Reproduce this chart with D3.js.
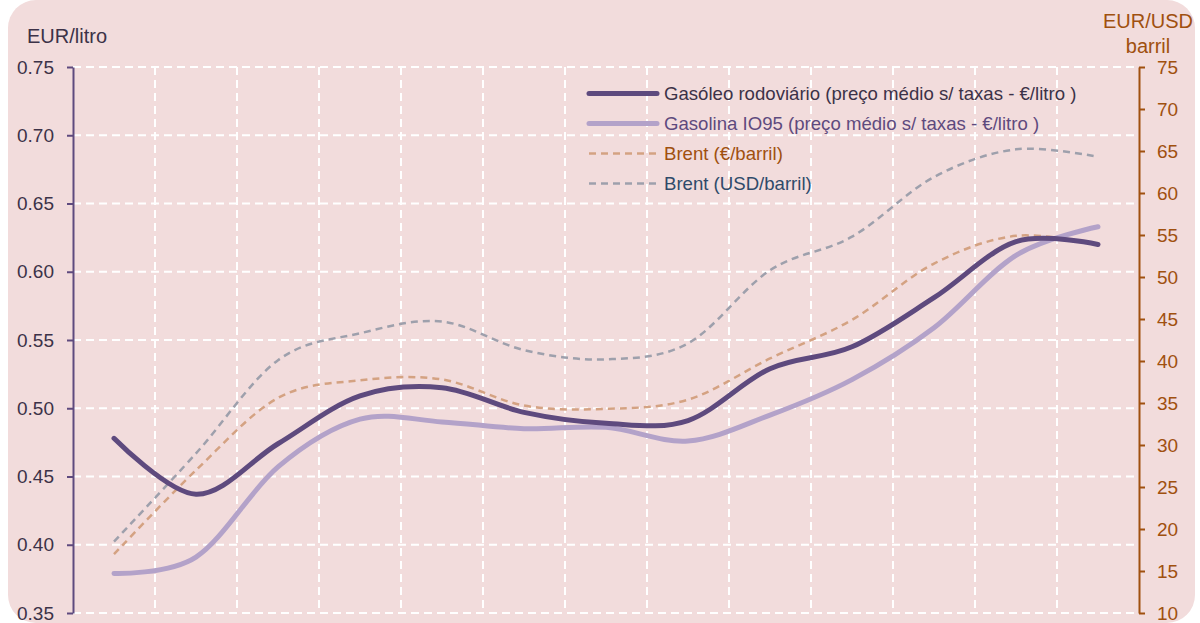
<!DOCTYPE html>
<html>
<head>
<meta charset="utf-8">
<script src="https://cdn.jsdelivr.net/npm/d3@7"></script>
<style>
  html, body { margin: 0; padding: 0; background: #ffffff; }
  svg { display: block; font-family: "Liberation Sans", Arial, sans-serif; }
</style>
</head>
<body>
<svg id="chart" width="1200" height="623"></svg>
<script>
// ---- data ----
const categories = ["1","2","3","4","5","6","7","8","9","10","11","12","13"];
const gasoleo  = [0.478, 0.437, 0.474, 0.509, 0.515, 0.497, 0.489, 0.491, 0.529, 0.545, 0.581, 0.622, 0.620];
const gasolina = [0.379, 0.391, 0.457, 0.492, 0.490, 0.485, 0.486, 0.476, 0.495, 0.521, 0.559, 0.612, 0.633];
const brentEur = [17.0, 27.0, 35.6, 37.7, 37.8, 34.7, 34.3, 35.4, 40.3, 44.9, 51.6, 54.9, 53.8];
const brentUsd = [18.5, 29.0, 40.1, 43.3, 44.7, 41.3, 40.2, 42.1, 50.8, 54.8, 61.9, 65.2, 64.3];
const leftTicks  = [0.35, 0.40, 0.45, 0.50, 0.55, 0.60, 0.65, 0.70, 0.75];
const rightTicks = [10, 15, 20, 25, 30, 35, 40, 45, 50, 55, 60, 65, 70, 75];
const seriesNames = [
  "Gasóleo rodoviário (preço médio s/ taxas - €/litro )",
  "Gasolina IO95 (preço médio s/ taxas - €/litro )",
  "Brent (€/barril)",
  "Brent (USD/barril)"
];

// ---- layout ----
const svg = d3.select("#chart");
const L = 73, R = 1139, T = 67, B = 613;

svg.append("rect").attr("x", 8).attr("y", 0).attr("width", 1187).attr("height", 623)
   .attr("rx", 28).attr("fill", "#F2DCDC");

const x = d3.scaleBand().domain(categories).range([L, R]);
const yL = d3.scaleLinear().domain([0.35, 0.75]).range([B, T]);
const yR = d3.scaleLinear().domain([10, 75]).range([B, T]);
const cx = c => x(c) + x.bandwidth() / 2;

// gridlines
const grid = svg.append("g");
grid.selectAll("line.h").data(leftTicks).join("line")
  .attr("x1", L).attr("x2", R)
  .attr("y1", d => yL(d)).attr("y2", d => yL(d))
  .attr("stroke", "#ffffff").attr("stroke-width", 2).attr("stroke-dasharray", "8,5");
grid.selectAll("line.v").data(categories.slice(1)).join("line")
  .attr("x1", d => x(d)).attr("x2", d => x(d))
  .attr("y1", T).attr("y2", B)
  .attr("stroke", "#ffffff").attr("stroke-width", 2).attr("stroke-dasharray", "8,5");

// axes
const leftAxis = svg.append("g").attr("transform", `translate(${L},0)`)
  .call(d3.axisLeft(yL).tickValues(leftTicks).tickFormat(d3.format(".2f")).tickSize(6).tickSizeOuter(0));
leftAxis.select(".domain").attr("stroke", "#5E4A7E").attr("stroke-width", 2);
leftAxis.selectAll(".tick line").attr("stroke", "#5E4A7E").attr("stroke-width", 2);
leftAxis.selectAll(".tick text").attr("fill", "#3C3248").attr("font-size", 19)
  .attr("x", -19).attr("font-family", "Liberation Sans, Arial, sans-serif");

const rightAxis = svg.append("g").attr("transform", `translate(${R},0)`)
  .call(d3.axisRight(yR).tickValues(rightTicks).tickSize(6).tickSizeOuter(0));
rightAxis.select(".domain").attr("stroke", "#A0500F").attr("stroke-width", 2);
rightAxis.selectAll(".tick line").attr("stroke", "#A0500F").attr("stroke-width", 2);
rightAxis.selectAll(".tick text").attr("fill", "#A0500F").attr("font-size", 19)
  .attr("x", 18).attr("font-family", "Liberation Sans, Arial, sans-serif");

// axis titles
svg.append("text").attr("x", 27).attr("y", 43).attr("fill", "#3C3248").attr("font-size", 20)
  .text("EUR/litro");
svg.append("text").attr("x", 1148).attr("y", 28).attr("text-anchor", "middle").attr("fill", "#A0500F")
  .attr("font-size", 20).text("EUR/USD");
svg.append("text").attr("x", 1148).attr("y", 53).attr("text-anchor", "middle").attr("fill", "#A0500F")
  .attr("font-size", 20).text("barril");

// lines
const curve = d3.curveCardinal.tension(0);
const lineL = d3.line().x((d, i) => cx(categories[i])).y(d => yL(d)).curve(curve);
const lineR = d3.line().x((d, i) => cx(categories[i])).y(d => yR(d)).curve(curve);

const styles = [
  { color: "#5E4A7E", width: 5, dash: null, text: "#3C3248" },
  { color: "#B3A2C9", width: 5, dash: null, text: "#5E4A7E" },
  { color: "#D4A282", width: 2.5, dash: "7,5", text: "#A0500F" },
  { color: "#9EA0AC", width: 2.5, dash: "7,5", text: "#2F4A6A" }
];

svg.append("path").attr("d", lineR(brentUsd)).attr("fill", "none")
  .attr("stroke", styles[3].color).attr("stroke-width", styles[3].width).attr("stroke-dasharray", styles[3].dash);
svg.append("path").attr("d", lineR(brentEur)).attr("fill", "none")
  .attr("stroke", styles[2].color).attr("stroke-width", styles[2].width).attr("stroke-dasharray", styles[2].dash);
svg.append("path").attr("d", lineL(gasolina)).attr("fill", "none")
  .attr("stroke", styles[1].color).attr("stroke-width", styles[1].width).attr("stroke-linecap", "round");
svg.append("path").attr("d", lineL(gasoleo)).attr("fill", "none")
  .attr("stroke", styles[0].color).attr("stroke-width", styles[0].width).attr("stroke-linecap", "round");

// legend
const leg = svg.append("g");
seriesNames.forEach((name, i) => {
  const yy = 93.5 + i * 30;
  const s = styles[i];
  leg.append("line").attr("x1", 589).attr("x2", 657).attr("y1", yy).attr("y2", yy)
    .attr("stroke", s.color).attr("stroke-width", s.width)
    .attr("stroke-dasharray", s.dash).attr("stroke-linecap", s.dash ? "butt" : "round");
  leg.append("text").attr("x", 664).attr("y", yy + 6.5).attr("fill", s.text)
    .attr("font-size", 18.6).text(name);
});
</script>
</body>
</html>
